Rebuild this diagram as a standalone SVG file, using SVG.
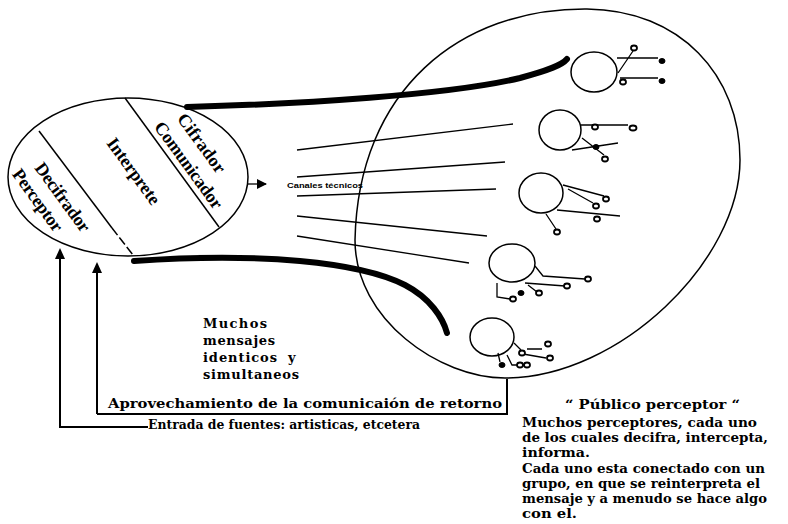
<svg xmlns="http://www.w3.org/2000/svg" width="788" height="524" viewBox="0 0 788 524">
<style>
.o{fill:none;stroke:#000;stroke-width:1.5}
.t{fill:none;stroke:#000;stroke-width:1.3}
.th{fill:none;stroke:#000;stroke-width:6;stroke-linecap:round}
.fb{fill:none;stroke:#000;stroke-width:2}
.s{fill:#fff;stroke:#000;stroke-width:1.8}
.f{fill:#000;stroke:#000;stroke-width:1}
.rt{font-family:"Liberation Serif",serif;font-size:18px;font-weight:bold;text-anchor:middle}
.bt{font-family:"DejaVu Serif","Liberation Serif",serif;font-size:13px;font-weight:bold}
</style>
<defs>
<marker id="ah" viewBox="0 0 10 10" refX="9" refY="5" markerWidth="10" markerHeight="10" markerUnits="userSpaceOnUse" orient="auto">
<path d="M0,0 L10,5 L0,10 z" fill="#000"/>
</marker>
</defs>

<g id="emisor">
<ellipse class="o" cx="128" cy="177" rx="120" ry="79"/>
<line class="o" x1="125" y1="98" x2="219" y2="227"/>
<line class="o" x1="39" y1="131" x2="112" y2="228"/>
<line class="o" x1="112" y1="228" x2="133" y2="255" stroke-dasharray="9,3"/>
<text class="rt" transform="translate(202,143) rotate(54)" dy="0.35em" textLength="69">Cifrador</text>
<text class="rt" transform="translate(189,165) rotate(54)" dy="0.35em" textLength="103">Comunicador</text>
<text class="rt" transform="translate(134,171) rotate(54)" dy="0.35em" textLength="78">Interprete</text>
<text class="rt" transform="translate(63,197) rotate(54)" dy="0.35em" textLength="81">Decifrador</text>
<text class="rt" transform="translate(38,200) rotate(54)" dy="0.35em" textLength="73">Perceptor</text>
</g>

<g id="publico">
<path class="o" d="M587,9 C680,10 740,75 740,160 C740,260 620,378 505,378 C440,378 355,320 355,240 C358,90 460,8 587,9 Z"/>
</g>

<g id="perceptor1">
<ellipse class="o" cx="594" cy="72" rx="23" ry="20"/>
<path class="t" d="M617,58 H658 M620,78 H658 M618,73 L633,51"/>
<ellipse class="f" cx="662" cy="61" rx="3" ry="2.5"/>
<ellipse class="f" cx="662" cy="81" rx="3" ry="2.5"/>
<ellipse class="s" cx="634" cy="48" rx="3" ry="2.5"/>
<ellipse class="s" cx="623" cy="82" rx="3" ry="2.5"/>
</g>

<g id="perceptor2">
<ellipse class="o" cx="560" cy="130" rx="21" ry="20"/>
<path class="t" d="M581,125 H628 M582,138 L604,155 M572,150 L618,143"/>
<ellipse class="s" cx="633" cy="128" rx="3.5" ry="2.5"/>
<ellipse class="s" cx="595" cy="127" rx="3" ry="2.5"/>
<ellipse class="s" cx="605" cy="159" rx="3" ry="2.5"/>
<ellipse class="f" cx="596" cy="147" rx="3" ry="2.5"/>
</g>

<g id="perceptor3">
<ellipse class="o" cx="541" cy="193" rx="22" ry="20"/>
<path class="t" d="M563,185 L604,196 M568,189 L593,203 M557,210 L620,216 M546,214 L556,229"/>
<ellipse class="s" cx="606" cy="199" rx="3" ry="2.5"/>
<ellipse class="s" cx="596" cy="206" rx="3" ry="2.5"/>
<ellipse class="s" cx="597" cy="219" rx="3" ry="2.5"/>
<ellipse class="s" cx="557" cy="232" rx="3" ry="2.5"/>
</g>

<g id="perceptor4">
<ellipse class="o" cx="512" cy="263" rx="23" ry="19"/>
<path class="t" d="M535,266 L543,276 L585,279 M525,283 L565,286 M528,285 L537,292 M497,283 L497,297 L510,299"/>
<ellipse class="s" cx="588" cy="279" rx="3" ry="2.5"/>
<ellipse class="s" cx="567" cy="286" rx="3" ry="2.5"/>
<ellipse class="s" cx="539" cy="293" rx="3" ry="2.5"/>
<ellipse class="f" cx="521" cy="293" rx="3" ry="2.5"/>
<ellipse class="s" cx="513" cy="299" rx="3" ry="2.5"/>
</g>

<g id="perceptor5">
<ellipse class="o" cx="492" cy="337" rx="22" ry="19"/>
<path class="t" d="M514,343 L521,350 M527,349 H542 M523,354 L546,358 M498,353 L500,362 M507,355 L512,365 H530"/>
<ellipse class="s" cx="522" cy="353" rx="3" ry="2.5"/>
<ellipse class="s" cx="548" cy="344" rx="3" ry="2.5"/>
<ellipse class="s" cx="550" cy="358" rx="3" ry="2.5"/>
<ellipse class="f" cx="502" cy="365" rx="3" ry="2.5"/>
<ellipse class="s" cx="520" cy="365" rx="3" ry="2.5"/>
<ellipse class="s" cx="527" cy="365" rx="3" ry="2.5"/>
</g>

<g id="connectors">
<path class="th" d="M187,107 C300,104 450,95 520,78 C550,70 562,65 567,59"/>
<path class="th" d="M134,261 C260,252 360,262 405,285 C430,298 443,318 447,333"/>
<line class="t" x1="248" y1="184" x2="266" y2="184" marker-end="url(#ah)"/>
<path class="t" d="M297,150 L513,124 M297,177 L505,162 M297,196 L496,189 M297,216 L487,236 M297,236 L469,263"/>
<path class="fb" d="M97,414 V266 M97,414 H507 V379" />
<path d="M92,273 L97,262 L102,273 z"/>
<path class="fb" d="M148,427 H60 V253"/>
<path d="M55,259 L60,248 L65,259 z"/>
</g>

<g id="textos">
<text x="287" y="188" font-family="Liberation Sans,sans-serif" font-size="7" font-weight="bold" textLength="76" lengthAdjust="spacingAndGlyphs">Canales técnicos</text>
<text class="bt" x="203" y="328" textLength="64">Muchos</text>
<text class="bt" x="203" y="345" textLength="72">mensajes</text>
<text class="bt" x="203" y="362" textLength="74">identicos</text>
<text class="bt" x="288" y="362">y</text>
<text class="bt" x="203" y="379" textLength="96">simultaneos</text>
<text class="bt" x="108" y="408" textLength="394" lengthAdjust="spacingAndGlyphs">Aprovechamiento de la comunicaión de retorno</text>
<text class="bt" x="148" y="429" textLength="272" lengthAdjust="spacingAndGlyphs">Entrada de fuentes: artisticas, etcetera</text>
<text class="bt" x="565" y="409" textLength="175" lengthAdjust="spacingAndGlyphs">“ Público perceptor “</text>
<text class="bt" x="522" y="427" textLength="235" lengthAdjust="spacingAndGlyphs">Muchos perceptores, cada uno</text>
<text class="bt" x="522" y="442" textLength="246" lengthAdjust="spacingAndGlyphs">de los cuales decifra, intercepta,</text>
<text class="bt" x="522" y="457" textLength="68" lengthAdjust="spacingAndGlyphs">informa.</text>
<text class="bt" x="522" y="473" textLength="243" lengthAdjust="spacingAndGlyphs">Cada uno esta conectado con un</text>
<text class="bt" x="522" y="488" textLength="238" lengthAdjust="spacingAndGlyphs">grupo, en que se reinterpreta el</text>
<text class="bt" x="522" y="503" textLength="245" lengthAdjust="spacingAndGlyphs">mensaje y a menudo se hace algo</text>
<text class="bt" x="522" y="518" textLength="55" lengthAdjust="spacingAndGlyphs">con el.</text>
</g>
</svg>
